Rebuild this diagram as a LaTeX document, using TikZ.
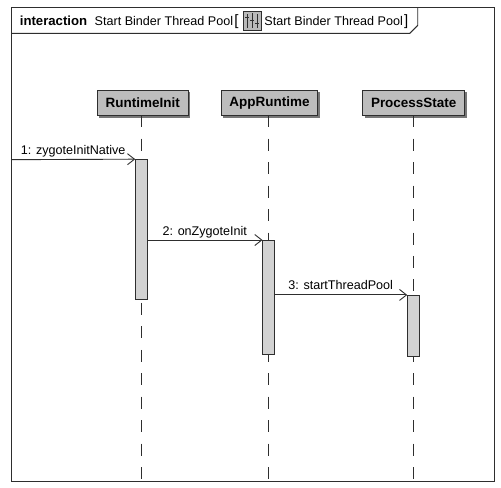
\documentclass[tikz,border=0pt]{standalone}
\usepackage{fontspec}
\setmainfont{Liberation Sans}
\usetikzlibrary{arrows.meta,positioning}
\definecolor{ink}{HTML}{2E2E2E}
\definecolor{headfill}{HTML}{BDBDBD}
\definecolor{shadowc}{HTML}{777777}
\definecolor{barfill}{HTML}{D2D2D2}
\tikzset{
  every path/.style={line width=0.9pt,draw=ink},
  headbox/.style={draw=ink,fill=headfill,minimum height=25pt,inner sep=0pt,text=black,font=\fontsize{13.5}{15}\selectfont\bfseries},
  barbox/.style={draw=ink,fill=barfill,minimum width=12pt,inner sep=0pt,line width=1pt},
  lifeline/.style={draw=ink,line width=1pt,dash pattern=on 12pt off 11.5pt},
  msg/.style={draw=ink,line width=0.9pt,-{Straight Barb[length=7pt,width=11pt,line width=0.9pt]}},
  msglabel/.style={inner sep=0pt,anchor=base west,text=black,font=\fontsize{12.6}{14}\selectfont},
  titletext/.style={inner sep=0pt,anchor=base west,text=black,font=\fontsize{12.6}{14}\selectfont},
}
\begin{document}
\begin{tikzpicture}[x=1pt,y=-1pt]
\useasboundingbox (0,0) rectangle (501,487);
\fill[white] (0,0) rectangle (501,487);
% frame
\draw (11,7) rectangle (495,482);
\draw (11,33) -- (410,33) -- (418,25) -- (418,7);
% title
\node[titletext,font=\fontsize{13.2}{14}\selectfont] at (19,25) {\textbf{interaction}};
\node[titletext] at (94,25) {Start Binder Thread Pool};
\node[titletext,font=\fontsize{15}{15}\selectfont] at (234,25.5) {[};
\fill[draw=ink,line width=0.5pt,fill=gray!55] (243,11) rectangle (261,30);
\draw[line width=0.7pt] (247,14) -- (247,28) (252,13) -- (252,28) (257,14) -- (257,28)
  (245,17) -- (249,17) (250,20) -- (254,20) (255,23) -- (259,23);
\node[titletext] at (264,25) {Start Binder Thread Pool};
\node[titletext,font=\fontsize{15}{15}\selectfont] at (404,25.5) {]};
% shadows
\fill[shadowc,draw=none] (99,92) rectangle (190,118);
\fill[shadowc,draw=none] (223,92) rectangle (320,118);
\fill[shadowc,draw=none] (365,92) rectangle (467,118);
% heads
\node[headbox,minimum width=91pt] (rt) at (142.5,102.5) {RuntimeInit};
\node[headbox,minimum width=97pt] (app) at (269.5,102.5) {AppRuntime};
\node[headbox,minimum width=102pt] (ps) at (414,102.5) {ProcessState};
% lifeline ends
\coordinate (rtend) at (141.5,481);
\coordinate (append) at (269,481);
\coordinate (psend) at (414,481);
\draw[lifeline] (141.5,115) -- (rtend);
\draw[lifeline] (269,115) -- (append);
\draw[lifeline] (414,115) -- (psend);
% activations
\node[barbox,minimum height=140pt] (a1) at (141.5,229.5) {};
\node[barbox,minimum height=114pt] (a2) at (269,297.5) {};
\node[barbox,minimum height=61pt] (a3) at (414,326) {};
% messages
\coordinate (start) at (11,159.5);
\draw[msg] (start) -- (a1.north west);
\draw[msg] (a1.east |- a2.north) -- (a2.north west);
\draw[msg] (a2.east |- a3.north) -- (a3.north west);
\node[msglabel] at (20,154.5) {1: zygoteInitNative};
\node[msglabel] at (162,235) {2: onZygoteInit};
\node[msglabel] at (288,290) {3: startThreadPool};
\end{tikzpicture}
\end{document}
